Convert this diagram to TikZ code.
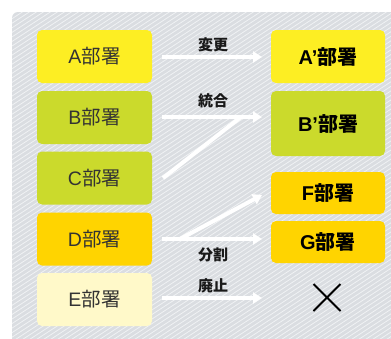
\documentclass[tikz,border=0pt]{standalone}
\usepackage{fontspec}
\setmainfont{Liberation Sans}
\newfontfamily\cjk{Noto Sans CJK JP}
\usetikzlibrary{arrows.meta}
\definecolor{bgpanel}{HTML}{DADDE1}
\definecolor{hatch}{HTML}{F0F2F4}
\definecolor{yelA}{HTML}{FDEE23}
\definecolor{yelB}{HTML}{CBDA2C}
\definecolor{yelD}{HTML}{FFD400}
\definecolor{yelE}{HTML}{FFF9C9}
\definecolor{txtgray}{HTML}{333333}
\tikzset{
  x=1pt, y=-1pt,
  leftbox/.style={rounded corners=5pt, minimum width=115pt, minimum height=53pt, inner sep=0pt,
    text=txtgray, font=\fontsize{19.5}{22}\selectfont},
  rightbox/.style={rounded corners=5pt, minimum width=114pt, inner sep=0pt,
    text=black, font=\fontsize{20}{22}\selectfont\bfseries},
  lbl/.style={font=\fontsize{15}{17}\selectfont\cjk\bfseries, text=black!90, inner sep=0pt},
  flow/.style={draw=white, line width=4pt, -{Triangle[width=11pt,length=9pt]}},
  flowline/.style={draw=white, line width=4pt},
}
\begin{document}
\begin{tikzpicture}
\useasboundingbox (0,0) rectangle (391,338);
\fill[white] (0,0) rectangle (391,338);
\begin{scope}
  \clip (0,0) rectangle (391,338);
  \fill[bgpanel, rounded corners=6pt] (12,12) rectangle (420,360);
  \clip[rounded corners=6pt] (12,12) rectangle (420,360);
  \foreach \i in {-90,...,60} {
    \draw[hatch, line width=0.8pt] (\i*7,345) -- ++(560,-364);
  }
\end{scope}
% left boxes
\node[leftbox, fill=yelA] (A) at (94.5,56.5) {A{\cjk 部署}};
\node[leftbox, fill=yelB] (B) at (94.5,117.5) {B{\cjk 部署}};
\node[leftbox, fill=yelB] (C) at (94.5,178) {C{\cjk 部署}};
\node[leftbox, fill=yelD] (D) at (94.5,239) {D{\cjk 部署}};
\node[leftbox, fill=yelE] (E) at (94.5,299.5) {E{\cjk 部署}};
% right boxes
\node[rightbox, fill=yelA, minimum height=53pt] (A2) at (328,56.5) {A’{\cjk 部署}};
\node[rightbox, fill=yelB, minimum height=65pt] (B2) at (328,123.5) {B’{\cjk 部署}};
\node[rightbox, fill=yelD, minimum height=42pt] (F) at (328,193) {F{\cjk 部署}};
\node[rightbox, fill=yelD, minimum height=42pt] (G) at (328,242) {G{\cjk 部署}};
% cross
\coordinate (X) at (327,297.5);
\draw[black, line width=2pt] (313.5,284) -- (340.5,311) (340.5,284) -- (313.5,311);
% connectors
\coordinate (a1) at (162,57);   \coordinate (a2) at (262,57);
\coordinate (b1) at (162,117);  \coordinate (b2) at (262,117);
\coordinate (c1) at (163,178);  \coordinate (c2) at (241,117);
\coordinate (d1) at (162,239);  \coordinate (d2) at (262,239);
\coordinate (dj) at (180,239);  \coordinate (f2) at (262,195);
\coordinate (e1) at (162,298);  \coordinate (e2) at (262,298);
\draw[flow] (a1) -- (a2);
\draw[flow] (b1) -- (b2);
\draw[flowline] (c1) -- (c2);
\draw[flow] (d1) -- (d2);
\draw[flow] (dj) -- (f2);
\draw[flow] (e1) -- (e2);
% labels
\node[lbl] (l1) at (213,45) {変更};
\node[lbl] (l2) at (213,101) {統合};
\node[lbl] (l3) at (213,255) {分割};
\node[lbl] (l4) at (213,285.5) {廃止};
\end{tikzpicture}
\end{document}
